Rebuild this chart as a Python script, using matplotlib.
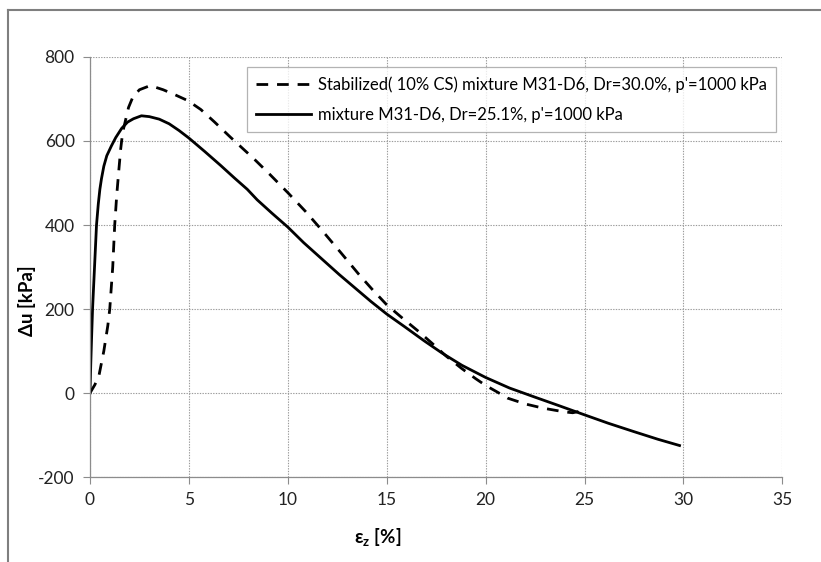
import matplotlib
matplotlib.use("Agg")
import matplotlib.pyplot as plt
from matplotlib.lines import Line2D

plt.rcParams['font.family'] = ['Lato', 'DejaVu Sans']
plt.rcParams['mathtext.fontset'] = 'custom'
plt.rcParams['mathtext.rm'] = 'Lato'
plt.rcParams['mathtext.bf'] = 'Lato:bold'
plt.rcParams['axes.unicode_minus'] = False

# Stabilized (10% CS) mixture M31-D6, Dr=30.0%
strain_stab = [0, 0.25, 0.46, 0.7, 0.9, 1.0, 1.15, 1.25, 1.35, 1.45, 1.55, 1.65,
               1.75, 1.95, 2.17, 2.5, 3.05, 3.7, 4.3, 4.95, 5.6, 6.3, 7.1, 7.7,
               8.3, 9.1, 10.0, 10.9, 11.75, 12.7, 13.6, 14.3, 15.0, 15.8, 16.6,
               17.3, 18.0, 18.8, 19.5, 20.0, 20.6, 21.1, 22.0, 22.9, 23.5, 24.0,
               24.4, 24.7, 25.0]
du_stab = [0, 20, 43, 100, 160, 200, 300, 400, 470, 526, 580, 620,
           640, 680, 705, 722, 732, 722, 710, 696, 675, 645, 609, 583,
           557, 520, 477, 432, 386, 333, 282, 245, 210, 178, 147,
           118, 88, 58, 34, 18, 2, -12, -26, -36, -41, -45,
           -47, -44, -35]

# Mixture M31-D6, Dr=25.1%
strain_mix = [0, 0.04, 0.08, 0.13, 0.2, 0.27, 0.33, 0.42, 0.5, 0.58, 0.7, 0.85,
              1.08, 1.3, 1.6, 1.9, 2.2, 2.6, 3.0, 3.5, 4.0, 4.5, 5.0, 5.8,
              6.6, 7.3, 7.95, 8.45, 9.2, 10.0, 10.8, 11.7, 12.6, 13.4, 14.2,
              15.0, 15.9, 16.9, 17.8, 18.8, 20.0, 21.2, 22.5, 23.7, 25.0,
              26.2, 27.5, 28.7, 29.8]
du_mix = [0, 70, 130, 200, 270, 340, 400, 450, 485, 510, 540, 565,
          588, 608, 630, 645, 653, 660, 658, 652, 641, 625, 607, 575,
          542, 512, 485, 460, 428, 395, 358, 320, 282, 250, 218,
          188, 158, 124, 95, 66, 37, 12, -10, -30, -52,
          -72, -92, -110, -125]

label_stab = "Stabilized( 10% CS) mixture M31-D6, Dr=30.0%, p'=1000 kPa"
label_mix = "mixture M31-D6, Dr=25.1%, p'=1000 kPa"

x_ticks = [0, 5, 10, 15, 20, 25, 30, 35]
y_ticks = [-200, 0, 200, 400, 600, 800]

fig = plt.figure(figsize=(8.21, 5.62), dpi=100)
ax = fig.add_axes([0.1096, 0.1512, 0.8434, 0.7474])

ax.plot(strain_stab, du_stab, color='black', lw=2.0, ls=(0, (4.2, 3.2)), label=label_stab)
ax.plot(strain_mix, du_mix, color='black', lw=2.0, ls='-', label=label_mix)

ax.set_xlim(0, 35)
ax.set_ylim(-200, 800)
ax.set_xticks(x_ticks)
ax.set_yticks(y_ticks)
ax.tick_params(axis='both', direction='out', length=5, width=0.8, color='#8c8c8c',
               labelsize=12.5, labelcolor='#222222', pad=6)

ax.grid(True, color='#9a9a9a', ls=(0, (1.2, 1.2)), lw=0.8)
ax.set_axisbelow(True)
for side in ['top', 'right']:
    ax.spines[side].set_visible(False)
for side in ['left', 'bottom']:
    ax.spines[side].set_color('#8c8c8c')
    ax.spines[side].set_linewidth(0.9)

ax.set_ylabel('Δu [kPa]', fontsize=13.5, fontweight='bold')
ax.set_xlabel(r'ε$_\mathbf{z}$ [%]', fontsize=13.5, fontweight='bold')
ax.yaxis.set_label_coords(-0.078, 0.42)
ax.xaxis.set_label_coords(0.415, -0.118)

leg = ax.legend(loc='upper right', bbox_to_anchor=(0.991, 0.975), fontsize=12,
                frameon=True, fancybox=False, handlelength=3.3, handletextpad=0.4,
                borderpad=0.55, labelspacing=0.8, borderaxespad=0)
leg.get_frame().set_edgecolor('#a0a0a0')
leg.get_frame().set_linewidth(0.9)

# Outer frame of the chart area
fig.add_artist(Line2D([8 / 821, 8 / 821], [0, 1 - 10 / 562], transform=fig.transFigure,
                      color='#7f7f7f', lw=1.5))
fig.add_artist(Line2D([8 / 821, 1], [1 - 10 / 562, 1 - 10 / 562], transform=fig.transFigure,
                      color='#7f7f7f', lw=1.5))

fig.savefig('out.png', dpi=100)
